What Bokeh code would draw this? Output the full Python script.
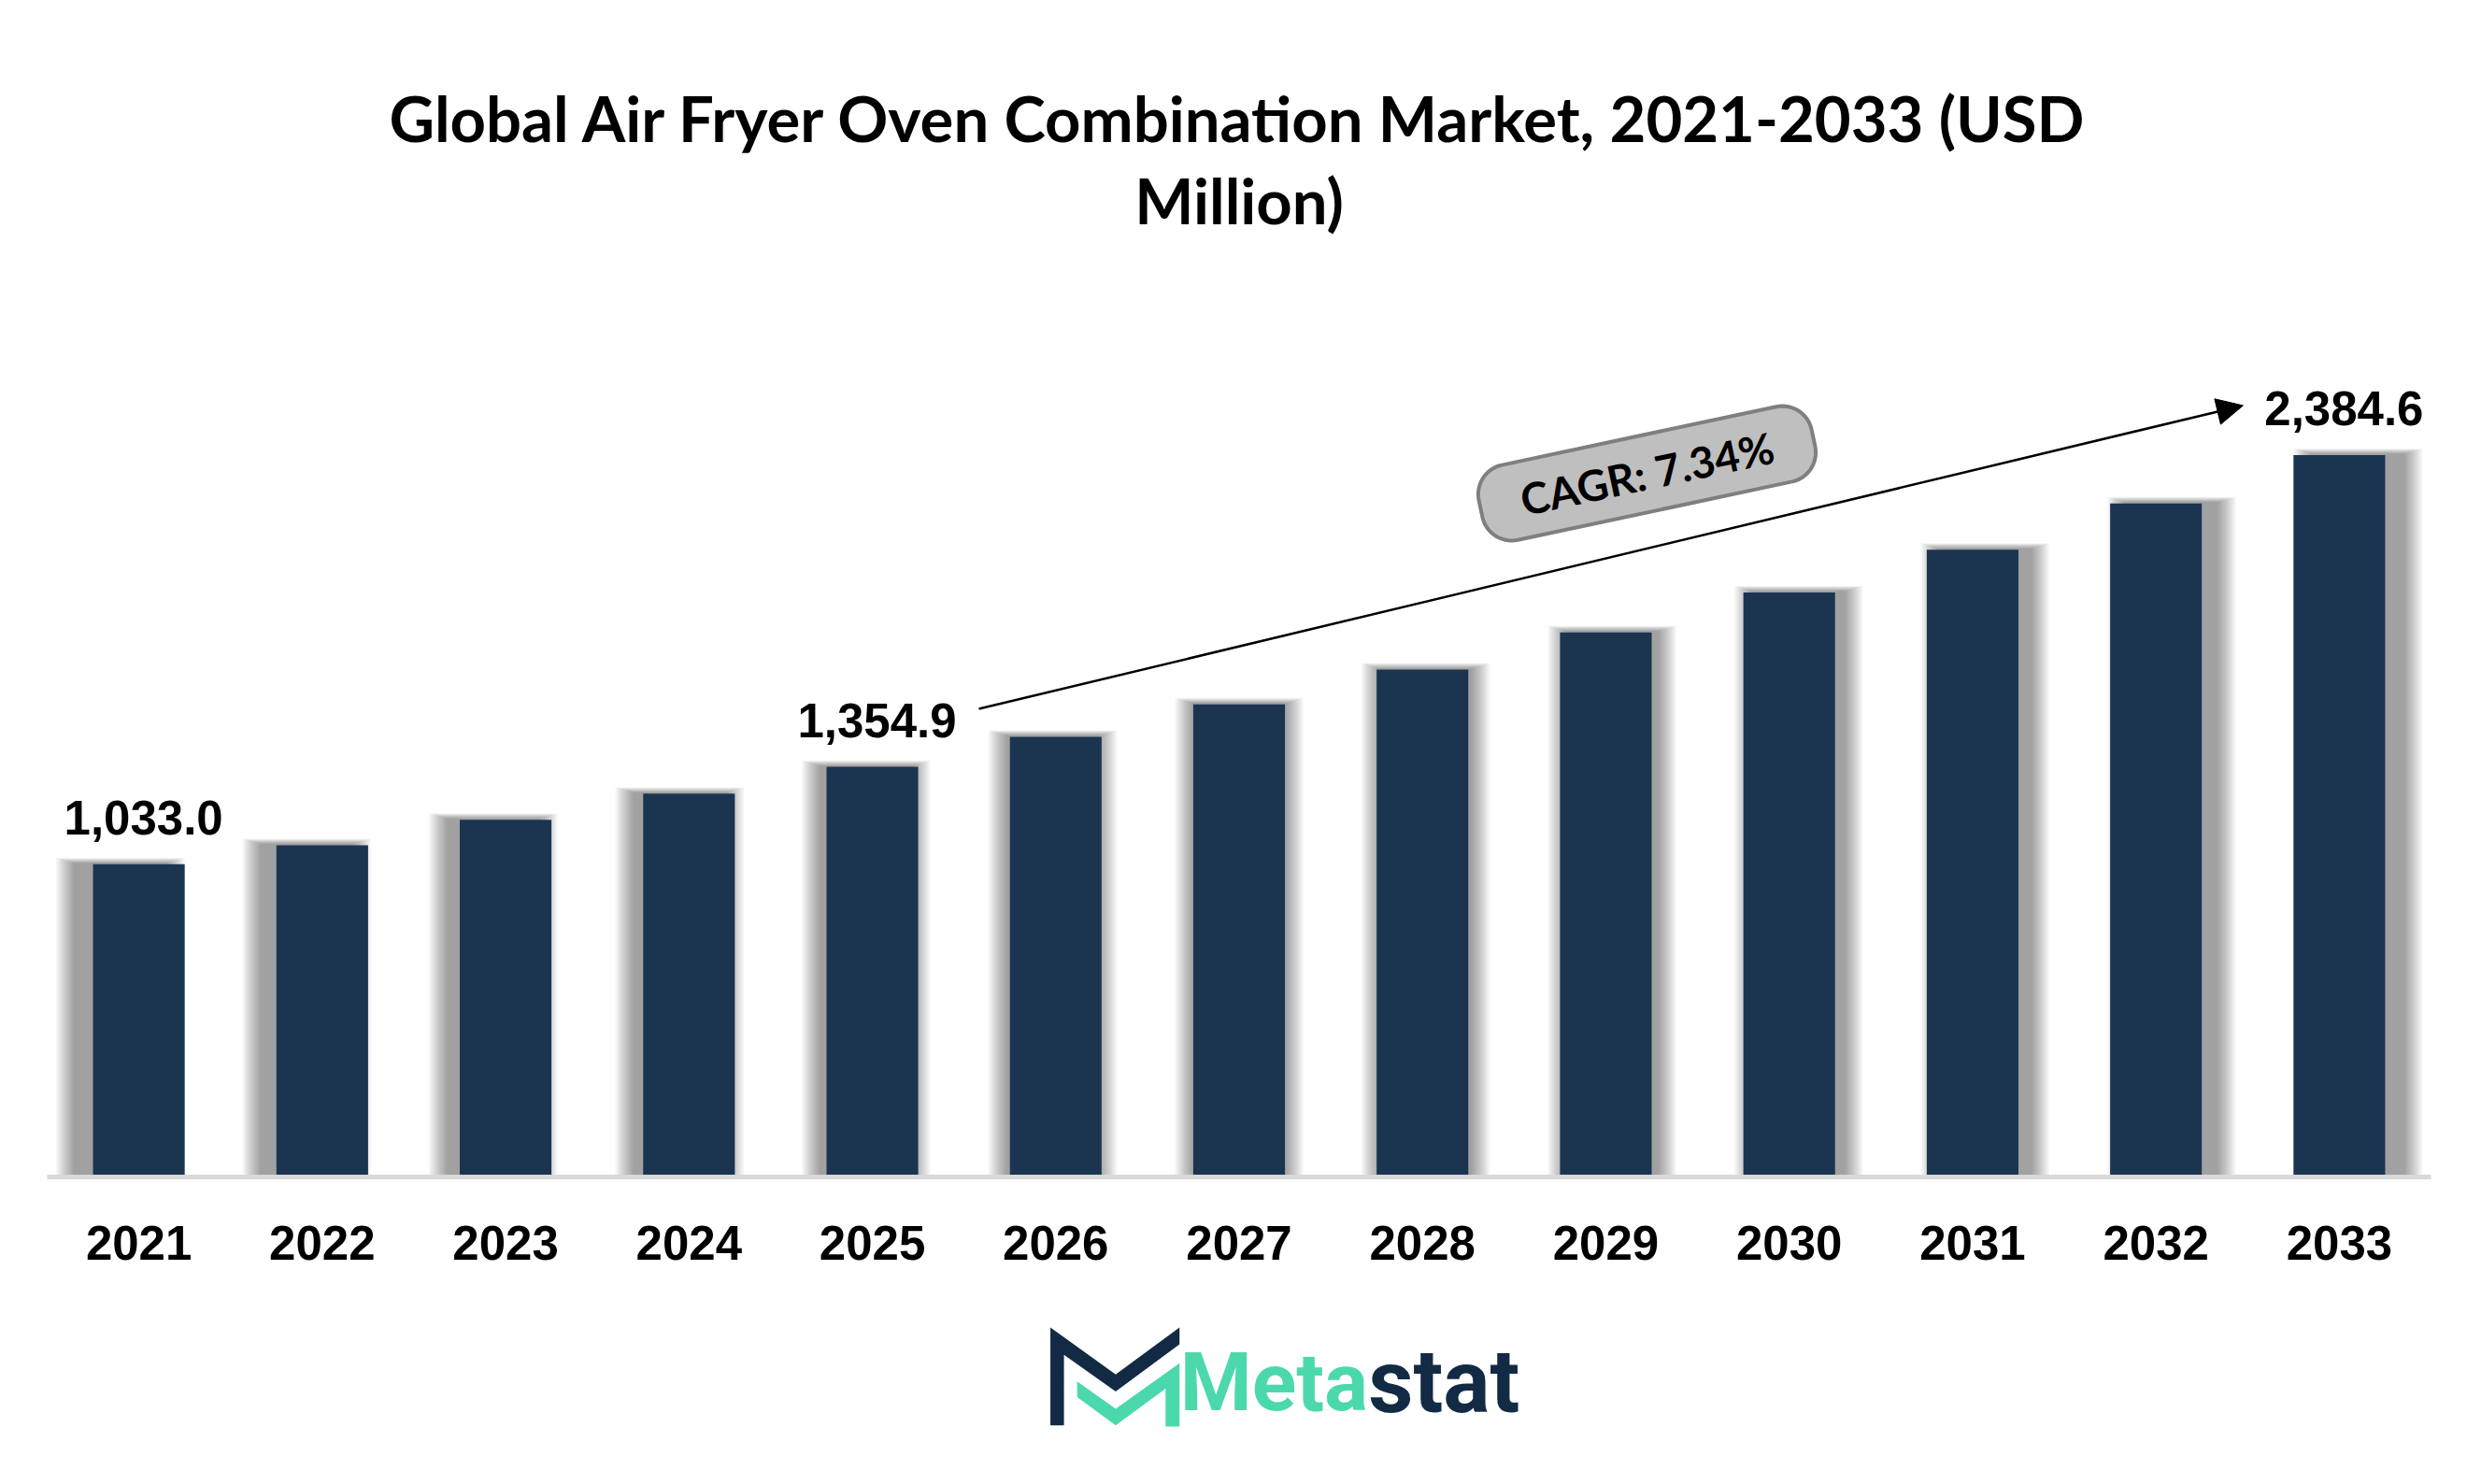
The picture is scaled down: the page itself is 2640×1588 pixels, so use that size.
import numpy as np
from bokeh.plotting import figure
from bokeh.layouts import column
from bokeh.models import Range1d, FixedTicker, Arrow, NormalHead
from bokeh.core.properties import value
from bokeh.embed import file_html
from bokeh.resources import INLINE

# ---- data -------------------------------------------------------------
years = [2021, 2022, 2023, 2024, 2025, 2026, 2027, 2028, 2029, 2030, 2031, 2032, 2033]
market_usd_mn = [1033.0, 1096.0, 1180.0, 1266.0, 1354.9, 1454.0, 1561.0,
                 1676.0, 1799.0, 1931.0, 2072.0, 2225.0, 2384.6]
labelled_years = [2021, 2025, 2033]
labelled_values = [1033.0, 1354.9, 2384.6]
labelled_texts = ["1,033.0", "1,354.9", "2,384.6"]
cagr_text = "CAGR: 7.34%"
title_lines = ["Global Air Fryer Oven Combination Market, 2021-2033 (USD", "Million)"]
brand_parts = ["Meta", "stat"]

# ---- layout constants ---------------------------------------------------
W = 2640
PLOT_H = 1400
LOGO_H = 1588 - PLOT_H
BORDER_L, BORDER_R, BORDER_B = 50, 39, 141
X_START, X_END = 2020.5, 2033.5
Y_END = 3886.0
FRAME_H = PLOT_H - BORDER_B
PX_X = (W - BORDER_L - BORDER_R) / (X_END - X_START)   # pixels per year
PX_Y = FRAME_H / Y_END                                 # pixels per USD mn

BAR_COLOR = "#1b3551"
BAR_W = 0.5


def page_y(py):
    """Data y for a vertical page pixel inside the main frame."""
    return (FRAME_H - py) / PX_Y


p = figure(width=W, height=PLOT_H, title=None,
           x_range=Range1d(X_START, X_END), y_range=Range1d(0, Y_END),
           output_backend="svg", toolbar_location=None, y_axis_location=None,
           min_border_left=BORDER_L, min_border_right=BORDER_R,
           min_border_top=0, min_border_bottom=BORDER_B)
p.outline_line_color = None
p.xgrid.visible = False
p.ygrid.visible = False
p.background_fill_color = "white"
p.border_fill_color = "white"

# soft shadow behind each bar, pushed outward from the centre of the chart
mid = (len(years) - 1) / 2
shift_px = [(i - mid) / mid * 20 for i in range(len(years))]
for k in range(12):
    spread = 1.0 + k * 1.7
    xs = [yr + s / PX_X for yr, s in zip(years, shift_px)]
    tops = [v + (1 + spread * 0.3) / PX_Y for v in market_usd_mn]
    p.vbar(x=xs, top=tops, bottom=0, width=BAR_W + 2 * spread / PX_X,
           fill_color="black", fill_alpha=0.034, line_color=None)

p.vbar(x=years, top=market_usd_mn, bottom=0, width=BAR_W,
       fill_color=BAR_COLOR, line_color=None)

# x axis: grey baseline and year labels
p.xaxis.ticker = FixedTicker(ticks=years)
p.xaxis.axis_line_color = "#d9d9d9"
p.xaxis.axis_line_width = 5
p.xaxis.major_tick_line_color = None
p.xaxis.minor_tick_line_color = None
p.xaxis.major_tick_out = 0
p.xaxis.major_label_standoff = 52
p.xaxis.major_label_text_font = "Liberation Sans"
p.xaxis.major_label_text_font_style = "bold"
p.xaxis.major_label_text_font_size = "51px"
p.xaxis.major_label_text_color = "black"

# value labels
p.text(x=labelled_years, y=labelled_values, text=labelled_texts,
       x_offset=5, y_offset=-50, text_align="center", text_baseline="alphabetic",
       text_font=value("Liberation Sans"), text_font_style="bold",
       text_font_size="51px", text_color="black")

# title
p.text(x=[2027.0, 2027.0], y=[page_y(125), page_y(213)], text=title_lines,
       text_align="center", text_baseline="alphabetic",
       text_font=value("Lato"), text_font_style="bold",
       text_font_size="67px", text_color="black")

# growth arrow from the 2025 label to the 2033 label
arr_x0 = labelled_years[1] + 114 / PX_X
arr_y0 = labelled_values[1] + 62 / PX_Y
arr_x1 = labelled_years[2] - 103 / PX_X
arr_y1 = labelled_values[2] + 53 / PX_Y
p.add_layout(Arrow(end=NormalHead(size=28, fill_color="black", line_color="black"),
                   x_start=arr_x0, y_start=arr_y0, x_end=arr_x1, y_end=arr_y1,
                   line_color="black", line_width=2.5))

# rounded, tilted CAGR badge
ang = np.radians(12)
bw, bh, br = 364.0, 82.0, 32.0
corner_pts = []
for (cx, cy, a0) in [(bw / 2 - br, bh / 2 - br, 0), (-bw / 2 + br, bh / 2 - br, 90),
                     (-bw / 2 + br, -bh / 2 + br, 180), (bw / 2 - br, -bh / 2 + br, 270)]:
    t = np.radians(np.linspace(a0, a0 + 90, 16))
    corner_pts.append(np.column_stack([cx + br * np.cos(t), cy + br * np.sin(t)]))
pts = np.vstack(corner_pts)
rx = pts[:, 0] * np.cos(ang) - pts[:, 1] * np.sin(ang)
ry = pts[:, 0] * np.sin(ang) + pts[:, 1] * np.cos(ang)
badge_x = X_START + (1762 - BORDER_L) / PX_X
badge_y = page_y(506)
p.patch(x=badge_x + rx / PX_X, y=badge_y + ry / PX_Y,
        fill_color="#bfbfbf", line_color="#7f7f7f", line_width=4)
p.text(x=[badge_x], y=[badge_y], text=[cagr_text], angle=ang,
       text_align="center", text_baseline="middle",
       text_font=value("Lato"), text_font_style="bold",
       text_font_size="46px", text_color="black")

# ---- brand strip --------------------------------------------------------
logo = figure(width=W, height=LOGO_H, title=None,
              x_range=Range1d(0, W), y_range=Range1d(LOGO_H, 0),
              output_backend="svg", toolbar_location=None,
              x_axis_location=None, y_axis_location=None, min_border=0)
logo.outline_line_color = None
logo.xgrid.visible = False
logo.ygrid.visible = False

navy_shape = [(0, 0), (178, 150), (352, 0), (352, 54), (178, 204), (37, 87), (37, 312), (0, 312)]
green_shape = [(73, 172), (178, 259), (352, 114), (352, 316), (314, 316), (314, 195),
               (178, 312), (73, 222)]
mx, my, msx, msy = 1111, 20, 143 / 352, 106 / 316
logo.patches(xs=[[mx + a * msx for a, _ in navy_shape], [mx + a * msx for a, _ in green_shape]],
             ys=[[my + b * msy for _, b in navy_shape], [my + b * msy for _, b in green_shape]],
             fill_color=["#132a44", "#4cd8ad"], line_color=None)
logo.text(x=[1463], y=[78], text=[brand_parts[0]], text_align="right",
          text_baseline="alphabetic", text_font=value("Roboto"), text_font_style="bold",
          text_font_size="88px", text_color="#4cd8ad")
logo.text(x=[1463], y=[78], text=[brand_parts[1]], text_align="left",
          text_baseline="alphabetic", text_font=value("Roboto"), text_font_style="bold",
          text_font_size="94px", text_color="#132a44")

layout = column(p, logo, spacing=0)
open("out.html", "w").write(file_html(layout, INLINE))
